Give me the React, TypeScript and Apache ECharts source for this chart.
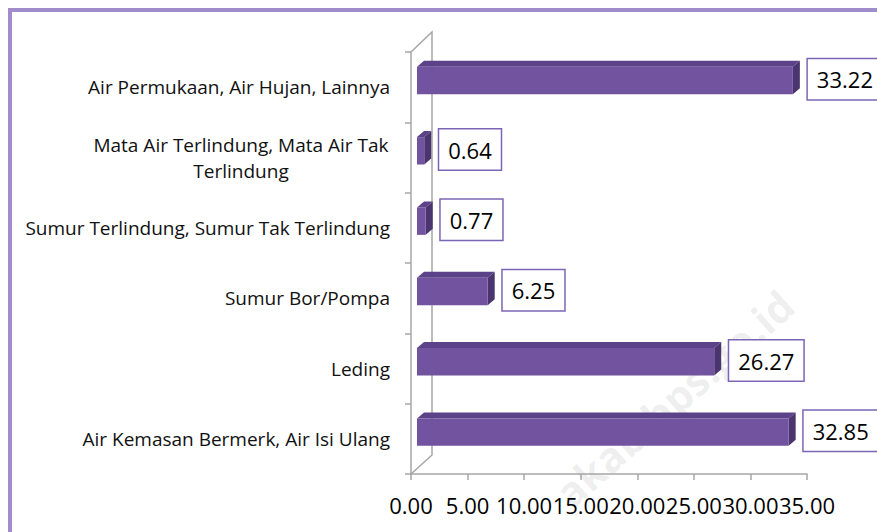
import React, { useEffect, useRef } from 'react';
import * as echarts from 'echarts';

const categories = [
  'Air Permukaan, Air Hujan, Lainnya',
  'Mata Air Terlindung, Mata Air Tak Terlindung',
  'Sumur Terlindung, Sumur Tak Terlindung',
  'Sumur Bor/Pompa',
  'Leding',
  'Air Kemasan Bermerk, Air Isi Ulang',
];
const values = [33.22, 0.64, 0.77, 6.25, 26.27, 32.85];
const xMin = 0;
const xMax = 35;
const xInterval = 5;
const watermark = 'akab.bps.go.id';

const FONT = '"Open Sans", "Noto Sans", sans-serif';
const FRONT = '#7253a0';
const TOPC = '#5c4288';
const SIDE = '#4a356f';
const AXIS = '#a6a6a6';
const CAT_SIZE = 19;

function wrapLabel(s: string, maxChars: number): string[] {
  if (s.length <= maxChars) return [s];
  const cut = s.lastIndexOf(' ', maxChars);
  return [s.slice(0, cut), s.slice(cut + 1)];
}

function measure(text: string, font: string): number {
  const c = document.createElement('canvas').getContext('2d');
  if (!c) return text.length * 8;
  c.font = font;
  return c.measureText(text).width;
}

export default function App() {
  const ref = useRef<HTMLDivElement>(null);
  useEffect(() => {
    if (!ref.current) return;
    const chart = echarts.init(ref.current, undefined, { renderer: 'svg' });

    const labelFont = `${CAT_SIZE}px ${FONT}`;
    const wrapped = categories.map((c) => wrapLabel(c, 38));
    const blockW = Math.ceil(
      Math.max(...wrapped.filter((w) => w.length > 1).flat().map((l) => measure(l, labelFont)), 10)
    ) + 2;

    const DX = 7;
    const DY = -6;

    const option: any = {
      animation: false,
      backgroundColor: '#ffffff',
      grid: { left: 411, right: 70, top: 52, bottom: 58, containLabel: false, outerBoundsMode: 'none' },
      xAxis: {
        type: 'value',
        min: xMin,
        max: xMax,
        interval: xInterval,
        splitLine: { show: false },
        axisLine: { show: true, lineStyle: { color: AXIS, width: 1.5 } },
        axisTick: { show: true, length: 6, lineStyle: { color: AXIS, width: 1.5 } },
        axisLabel: {
          formatter: (v: number) => v.toFixed(2),
          fontSize: 22,
          fontFamily: FONT,
          color: '#000',
          margin: 20,
          lineHeight: 22,
          hideOverlap: false,
          showMinLabel: true,
          showMaxLabel: true,
        },
      },
      yAxis: {
        type: 'category',
        data: categories,
        inverse: true,
        axisLine: { show: true, lineStyle: { color: AXIS, width: 1.5 } },
        axisTick: { show: true, length: 6, lineStyle: { color: AXIS, width: 1.5 } },
        splitLine: { show: false },
        axisLabel: {
          fontSize: CAT_SIZE,
          fontFamily: FONT,
          color: '#111',
          margin: 21,
          lineHeight: 26,
          interval: 0,
          hideOverlap: false,
          formatter: (v: string) => {
            const lines = wrapLabel(v, 38);
            if (lines.length === 1) return v;
            return lines.map((l) => `{c|${l}}`).join('\n');
          },
          rich: {
            c: { width: blockW, align: 'center', fontSize: CAT_SIZE, fontFamily: FONT, color: '#111', lineHeight: 26 },
          },
        },
      },
      graphic: [
        {
          type: 'rect',
          shape: { x: 10, y: 10, width: 1000, height: 700 },
          style: { fill: 'none', stroke: '#a18ccb', lineWidth: 4 },
          z: 50,
        },
        {
          type: 'text',
          x: 787,
          y: 298,
          rotation: 0.725,
          style: {
            text: watermark,
            fill: 'rgba(0,0,0,0.07)',
            font: `bold 42px ${FONT}`,
            align: 'right',
            verticalAlign: 'middle',
            textAlign: 'right',
            textVerticalAlign: 'middle',
          },
          z: 0,
          silent: true,
        },
      ],
      series: [
        {
          type: 'custom',
          name: 'wall',
          coordinateSystem: 'cartesian2d',
          data: [[0, 0]],
          encode: { x: 0, y: 1 },
          z: 1,
          renderItem: (params: any) => {
            const cs = params.coordSys;
            const bx = 21;
            const by = -20;
            return {
              type: 'polyline',
              shape: {
                points: [
                  [cs.x, cs.y],
                  [cs.x + bx, cs.y + by],
                  [cs.x + bx, cs.y + cs.height + by + 1],
                  [cs.x, cs.y + cs.height],
                ],
              },
              style: { stroke: AXIS, lineWidth: 1.5, fill: 'none' },
            };
          },
        },
        {
          type: 'custom',
          name: 'bars',
          coordinateSystem: 'cartesian2d',
          data: values.map((v, i) => [v, i]),
          encode: { x: 0, y: 1 },
          z: 2,
          renderItem: (params: any, api: any) => {
            const v = api.value(0);
            const c = api.value(1);
            const p0 = api.coord([0, c]);
            const p1 = api.coord([v, c]);
            const band = api.size([0, 1])[1];
            const h = band * 0.39;
            const yc = p0[1] - band * 0.095;
            const x0 = p0[0] + 6;
            const x1 = p1[0] + 6;
            const top = yc - h / 2;
            const bot = yc + h / 2;
            const ly = Math.max(p0[1] - 8, params.coordSys.y + 21);
            return {
              type: 'group',
              children: [
                {
                  type: 'polygon',
                  shape: { points: [[x0, top], [x0 + DX, top + DY], [x1 + DX, top + DY], [x1, top]] },
                  style: { fill: TOPC },
                },
                {
                  type: 'polygon',
                  shape: { points: [[x1, top], [x1 + DX, top + DY], [x1 + DX, bot + DY], [x1, bot]] },
                  style: { fill: SIDE },
                },
                {
                  type: 'rect',
                  shape: { x: x0, y: top, width: Math.max(x1 - x0, 0.5), height: h },
                  style: { fill: FRONT },
                },
                {
                  type: 'text',
                  x: x1 + DX + 8,
                  y: ly,
                  style: {
                    text: v.toFixed(2),
                    fill: '#000',
                    font: `22px ${FONT}`,
                    fontSize: 22,
                    fontFamily: FONT,
                    lineHeight: 26,
                    align: 'left',
                    verticalAlign: 'middle',
                    textAlign: 'left',
                    textVerticalAlign: 'middle',
                    backgroundColor: '#fff',
                    borderColor: '#7d65b5',
                    borderWidth: 1.5,
                    padding: [7, 9, 7, 9],
                  },
                },
              ],
            };
          },
        },
      ],
    };
    chart.setOption(option);
    return () => chart.dispose();
  }, []);
  return (
    <div
      ref={ref}
      style={{ position: 'fixed', left: 0, top: 0, width: 877, height: 532, background: '#fff' }}
    />
  );
}
